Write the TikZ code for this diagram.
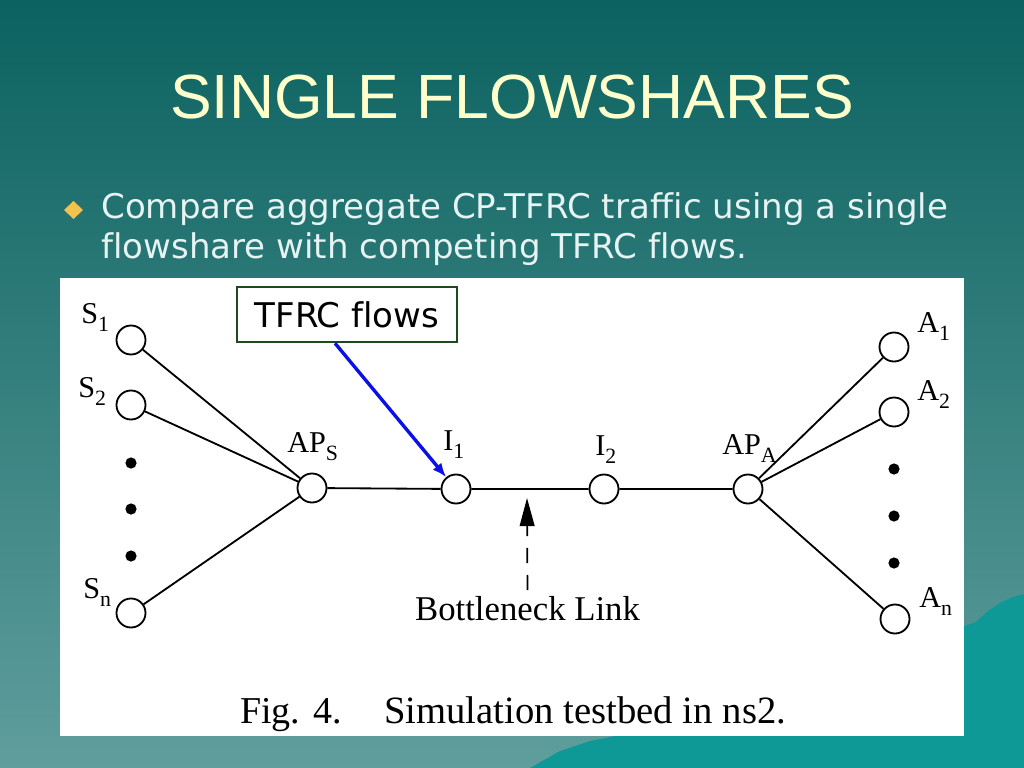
\documentclass[tikz,border=0pt]{standalone}
\usepackage{fontspec}
\setmainfont{Liberation Serif}
\newfontfamily\slidesans[Ligatures=NoCommon]{DejaVu Sans}
\newfontfamily\titlesans{Liberation Sans}
\usepackage{xcolor}
\usetikzlibrary{arrows.meta}
\usetikzlibrary{positioning}
\definecolor{bgtop}{HTML}{0B6260}
\definecolor{bgbot}{HTML}{5F9E9D}
\definecolor{hills}{HTML}{0E9896}
\definecolor{titlecol}{HTML}{FFFFCC}
\definecolor{bodycol}{HTML}{E6F3F3}
\definecolor{diamondcol}{HTML}{F2C14E}
\definecolor{boxgreen}{HTML}{1E4A1E}
\definecolor{flowblue}{HTML}{0A10E6}
\newcommand{\lsub}[1]{\raisebox{-6pt}{\fontsize{15.5}{16}\selectfont #1}}

\begin{document}
\begin{tikzpicture}[x=0.025cm,y=-0.025cm,
    host/.style={draw,circle,line width=1.3pt,minimum size=0.725cm,inner sep=0pt,fill=white},
    lbl/.style={anchor=base west,inner sep=0pt,font=\fontsize{21.5}{24}\selectfont},
    bigdot/.style={fill,circle,inner sep=0pt,minimum size=0.28cm},
    body/.style={anchor=base west,inner sep=0pt,text=bodycol,font=\slidesans\fontsize{24.2}{29}\selectfont},
    link/.style={line width=1.3pt}]
    \useasboundingbox (0,0) rectangle (1024,768);
    \shade[top color=bgtop,bottom color=bgbot] (0,0) rectangle (1024,768);
    \fill[hills] (530,768) -- (560,751) -- (590,741) -- (615,736) -- (964,730) -- (964,626) -- (976,622) -- (988,611) -- (1000,603) -- (1013,597) -- (1024,594) -- (1024,768) -- cycle;
    \node[anchor=base,inner sep=0pt,text=titlecol,font=\titlesans\fontsize{44.4}{50}\selectfont] (title) at (512,119) {SINGLE FLOWSHARES};
    \fill[diamondcol] (73.5,201) -- (83,210) -- (73.5,219) -- (64,210) -- cycle;
    \node[body] (line1) at (101,218) {Compare aggregate CP-TFRC traffic using a single};
    \node[body] (line2) at (101,258) {flowshare with competing TFRC flows.};
    \fill[white] (60,278) rectangle (964,736);

    \node[host] (s1) at (131,340) {};
    \node[host] (s2) at (131,405) {};
    \node[host] (sn) at (131,613) {};
    \node[host] (aps) at (312,488) {};
    \node[host] (i1) at (456,489) {};
    \node[host] (i2) at (604,489) {};
    \node[host] (apa) at (748,489) {};
    \node[host] (a1) at (894,347) {};
    \node[host] (a2) at (894,412) {};
    \node[host] (an) at (895,619) {};
    \foreach \y in {463,509,556} \node[bigdot] at (131,\y) {};
    \foreach \y in {469,516,563} \node[bigdot] at (894,\y) {};

    \draw[link] (s1) -- (aps);
    \draw[link] (s2) -- (aps);
    \draw[link] (sn) -- (aps);
    \draw[link] (aps) -- (i1) -- (i2) -- (apa);
    \draw[link] (apa) -- (a1);
    \draw[link] (apa) -- (a2);
    \draw[link] (apa) -- (an);

    \node[lbl] (s1l) at (81,323) {S\lsub{1}};
    \node[lbl] (s2l) at (78,397) {S\lsub{2}};
    \node[lbl] (snl) at (83,598) {S\lsub{n}};
    \node[lbl] (apsl) at (287,452) {AP\lsub{S}};
    \node[lbl] (i1l) at (443,450) {I\lsub{1}};
    \node[lbl] (i2l) at (595,455) {I\lsub{2}};
    \node[lbl] (apal) at (722,454) {AP\lsub{A}};
    \node[lbl] (a1l) at (917,332) {A\lsub{1}};
    \node[lbl] (a2l) at (917,400) {A\lsub{2}};
    \node[lbl] (anl) at (919,607) {A\lsub{n}};

    \node[draw=boxgreen,line width=1.8pt,fill=white,minimum width=5.5cm,minimum height=1.375cm,inner sep=0pt,font=\slidesans\fontsize{24.2}{29}\selectfont] (tfrc) at (347,314.5) {TFRC flows};
    \draw[flowblue,line width=2.4pt,-{Latex[length=10pt,width=8pt]}] ([xshift=-8.5pt]tfrc.south) -- (i1);

    \node[anchor=base,inner sep=0pt,font=\fontsize{24.7}{28}\selectfont] (bnl) at (527.5,620) {Bottleneck Link};
    \coordinate (bntip) at (527,498);
    \draw[line width=1.2pt,dash pattern=on 10.7pt off 8.5pt,shorten <=4pt,-{Triangle[length=20pt,width=10.5pt]}] (bnl.north) -- (bntip);

    \node[anchor=base west,inner sep=0pt,font=\fontsize{27}{30}\selectfont] (figno) at (240,723) {Fig. 4.};
    \node[anchor=base west,inner sep=0pt,font=\fontsize{27.5}{30}\selectfont] (figcap) at (384,723) {Simulation testbed in ns2.};
\end{tikzpicture}
\end{document}
